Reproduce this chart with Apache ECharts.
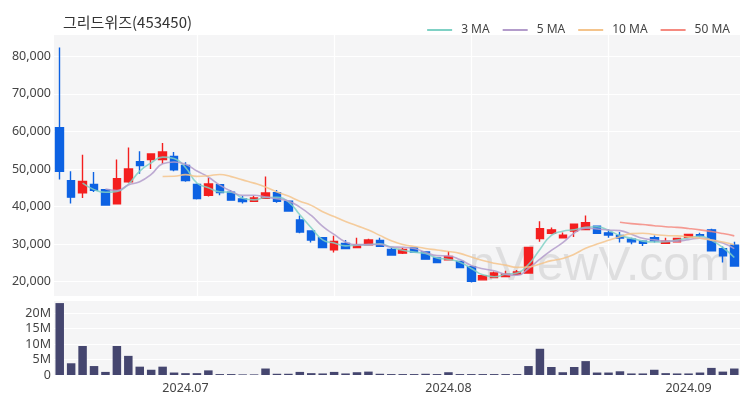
<!DOCTYPE html>
<html><head><meta charset="utf-8">
<script src="https://cdn.jsdelivr.net/npm/echarts/dist/echarts.min.js"></script>
<style>html,body{margin:0;padding:0;background:#fff}#c{width:750px;height:400px}</style>
</head><body><div id="c"></div>
<script>
const title = '그리드위즈(453450)';
const dates = [
 '2024-06-14','2024-06-17','2024-06-18','2024-06-19','2024-06-20','2024-06-21','2024-06-24','2024-06-25','2024-06-26','2024-06-27','2024-06-28',
 '2024-07-01','2024-07-02','2024-07-03','2024-07-04','2024-07-05','2024-07-08','2024-07-09','2024-07-10','2024-07-11','2024-07-12',
 '2024-07-15','2024-07-16','2024-07-17','2024-07-18','2024-07-19','2024-07-22','2024-07-23','2024-07-24','2024-07-25','2024-07-26',
 '2024-07-29','2024-07-30','2024-07-31',
 '2024-08-01','2024-08-02','2024-08-05','2024-08-06','2024-08-07','2024-08-08','2024-08-09','2024-08-12','2024-08-13','2024-08-14',
 '2024-08-16','2024-08-19','2024-08-20','2024-08-21','2024-08-22','2024-08-23','2024-08-26','2024-08-27','2024-08-28','2024-08-29','2024-08-30',
 '2024-09-02','2024-09-03','2024-09-04','2024-09-05','2024-09-06'];
const opens = [61000,46900,43650,45850,44500,40700,46600,51900,52500,52500,53300,50900,45900,43000,45800,43800,42000,41400,42200,43700,
 41400,36400,33500,31700,28500,30200,29100,29800,31000,28600,27600,29000,27900,26300,25800,25400,24000,20500,21100,21400,
 22000,22300,31500,32900,31700,33500,33900,34800,33000,32300,31300,30800,31700,30200,30600,31800,32500,33800,28800,29700];
const closes = [49400,42500,46700,44300,40400,47400,50000,50900,54000,54500,49800,46900,42100,46000,43700,41700,41300,42300,43600,41400,
 38800,33200,31100,29100,30700,28800,29700,31100,29400,27100,28600,27900,26000,25100,26700,23800,20100,21600,22300,22000,
 22600,29100,34100,33800,32400,35300,35700,32900,32400,31600,30600,30200,30900,30800,31500,32600,32200,28200,26900,24200];
const lows = [47200,40800,42300,43900,40300,40600,46300,48700,50000,51300,49400,46600,41900,42700,43000,41600,40800,41200,42000,41000,
 38600,32900,30400,29000,27800,28700,29000,29700,29300,26900,27400,27800,25900,24900,25700,23600,19800,20300,20900,21300,
 21800,22200,30600,32600,31600,31900,33800,32800,31700,30400,30000,29500,30400,30100,30500,31700,31800,28100,25100,24100];
const highs = [82300,49400,53800,49200,44600,52500,55700,54700,54200,56900,54500,51800,46100,47600,46000,44400,42800,42900,48000,44400,
 41600,37600,33500,31800,32200,31100,31700,31400,31700,29000,29000,29100,28100,26500,28200,25600,24200,21800,22700,22900,
 23100,29100,36100,34400,33100,35400,37600,34900,33900,33200,31700,31000,32300,31700,31600,32700,33000,34100,29400,30600];
const volumes = [23300000,3800000,9400000,2900000,1000000,9400000,6200000,2700000,1700000,2700000,
 800000,600000,600000,1500000,300000,300000,200000,200000,2100000,400000,
 400000,1000000,600000,500000,1000000,500000,900000,1100000,400000,300000,
 300000,300000,400000,300000,900000,300000,300000,300000,300000,300000,
 300000,2900000,8500000,2600000,900000,2600000,4500000,800000,800000,1200000,
 500000,500000,1700000,600000,500000,500000,800000,2300000,1100000,2100000];
const maPeriods = [3, 5, 10, 50];
const maNames = ['3 MA', '5 MA', '10 MA', '50 MA'];
const maColors = ['#7fd1c5', '#b39ccb', '#f4c48c', '#f58a80'];

function movingAvg(n) {
  return closes.map((c, i) => {
    if (i < n - 1) return '-';
    let s = 0;
    for (let k = i - n + 1; k <= i; k++) s += closes[k];
    return Math.round(s / n);
  });
}
const candleData = dates.map((d, i) => [opens[i], closes[i], lows[i], highs[i]]);

const font = "'Noto Sans', 'Noto Sans CJK KR', sans-serif";
const chart = echarts.init(document.getElementById('c'), null, {renderer: 'canvas'});
const maSeries = maPeriods.map((p, j) => ({
  name: maNames[j], type: 'line', data: movingAvg(p), xAxisIndex: 0, yAxisIndex: 0,
  smooth: true, showSymbol: false, symbol: 'none', z: 3,
  lineStyle: {width: 1.6, color: maColors[j], opacity: 0.85},
  itemStyle: {color: maColors[j]}
}));

chart.setOption({
  animation: false,
  backgroundColor: '#ffffff',
  title: {text: title, left: 58, top: 10,
    textStyle: {fontFamily: "'Noto Sans CJK KR', sans-serif", fontSize: 15, fontWeight: 'normal', color: '#333'}},
  legend: {data: maNames.map(n => ({name: n, icon: 'rect'})), right: 15, top: 19, itemWidth: 25, itemHeight: 2, itemGap: 13,
    textStyle: {fontFamily: font, fontSize: 12, color: '#444', padding: [0, 0, 0, 4]}},
  graphic: [{type: 'text', right: 20, top: 243, z: 0, silent: true,
    style: {text: 'nViewV.com', font: "48px 'Liberation Sans', Arial, sans-serif", fill: 'rgba(150,150,150,0.24)'}}],
  grid: [
    {left: 54, right: 10, top: 34, height: 262, show: true, backgroundColor: '#f5f5f6', borderWidth: 0},
    {left: 54, right: 10, top: 300, height: 75, show: true, backgroundColor: '#f5f5f6', borderWidth: 0}
  ],
  xAxis: [
    {type: 'category', data: dates, gridIndex: 0, boundaryGap: true,
      axisLine: {show: false}, axisTick: {show: false}, axisLabel: {show: false},
      splitLine: {show: true, alignWithLabel: true, interval: (i) => i > 0 && i % 12 === 0,
        lineStyle: {color: '#ffffff', width: 1.2}}},
    {type: 'category', data: dates, gridIndex: 1, boundaryGap: true,
      axisLine: {show: false}, axisTick: {show: false}, splitLine: {show: false},
      axisLabel: {show: true, fontFamily: font, fontSize: 12.5, color: '#444', margin: 7,
        interval: (i) => i > 0 && dates[i].slice(5, 7) !== dates[i - 1].slice(5, 7),
        formatter: (v) => v.slice(0, 7).replace('-', '.')}}
  ],
  yAxis: [
    {type: 'value', gridIndex: 0, min: 16200, max: 85900, scale: true,
      axisLine: {show: false}, axisTick: {show: false},
      splitLine: {show: true, lineStyle: {color: '#ffffff', width: 1.2}},
      axisLabel: {fontFamily: font, fontSize: 12.5, color: '#444', margin: 3, showMinLabel: false, showMaxLabel: false,
        formatter: (v) => v.toLocaleString('en-US')}},
    {type: 'value', gridIndex: 1, min: 0, max: 24300000,
      axisLine: {show: false}, axisTick: {show: false},
      splitLine: {show: true, lineStyle: {color: '#ffffff', width: 1.2}},
      axisLabel: {fontFamily: font, fontSize: 12.5, color: '#444', margin: 3, showMaxLabel: false,
        formatter: (v) => v === 0 ? '0' : (v / 1000000) + 'M'}}
  ],
  series: [
    {name: 'price', type: 'candlestick', data: candleData, xAxisIndex: 0, yAxisIndex: 0, barWidth: 8, z: 2,
      itemStyle: {color: '#f41f1f', color0: '#0d62e3', borderColor: '#f41f1f', borderColor0: '#0d62e3', borderWidth: 1.4}},
    ...maSeries,
    {name: 'volume', type: 'bar', data: volumes, xAxisIndex: 1, yAxisIndex: 1, barWidth: 8.5,
      itemStyle: {color: '#45466f'}}
  ]
});
</script>
</body></html>
